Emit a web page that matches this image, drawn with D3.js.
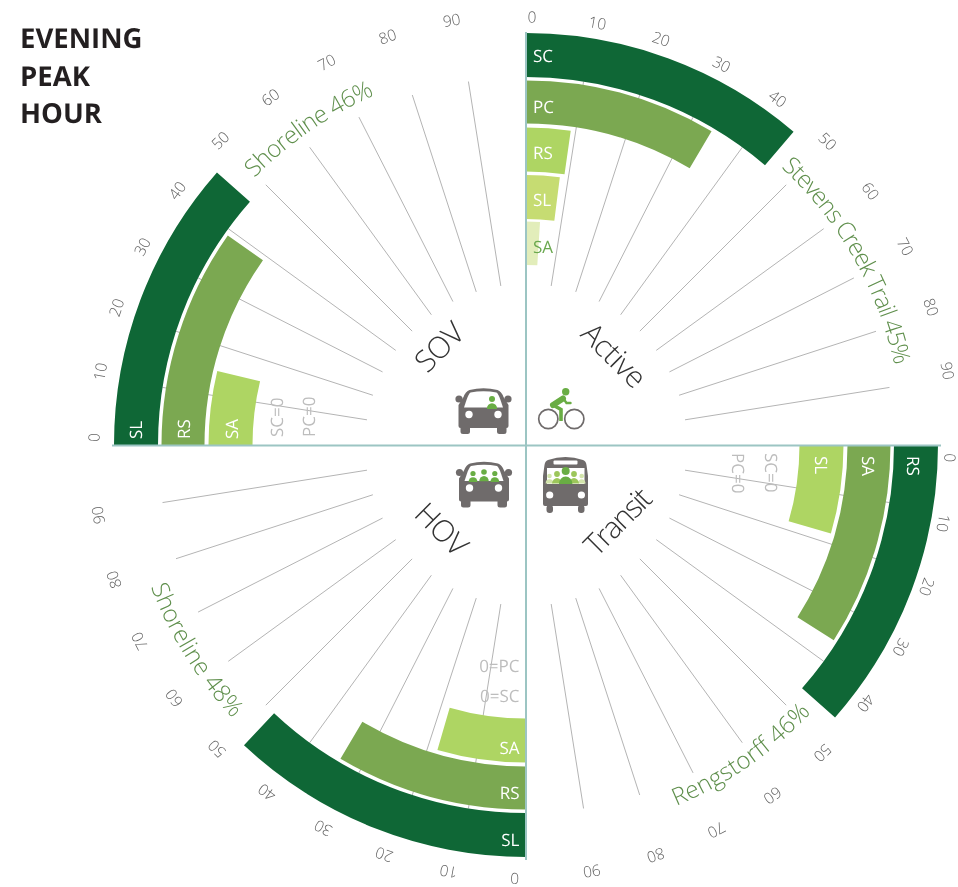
<!DOCTYPE html>
<html><head><meta charset="utf-8">
<script src="https://cdn.jsdelivr.net/npm/d3@7"></script>
<style>
html,body{margin:0;padding:0;background:#fff}
svg{display:block}
text{font-family:"Open Sans",sans-serif;text-rendering:geometricPrecision}
</style></head><body>
<svg id="c" width="958" height="887"></svg>
<script>
// ---- data ----
const titleLines = ["EVENING","PEAK","HOUR"];
const tickValues = [0,10,20,30,40,50,60,70,80,90];
const gridValues = [10,20,30,40,50,60,70,80,90];

const activeCats = ["SC","PC","RS","SL","SA"];
const activeVals = [45,34,9,8,4];
const transitCats = ["RS","SA","SL"];
const transitVals = [46,36,18];
const hovCats = ["SL","RS","SA"];
const hovVals = [48,34,18];
const sovCats = ["SL","RS","SA"];
const sovVals = [46,39,15];

const modeNames = ["Active","Transit","HOV","SOV"];
const peakLabels = ["Stevens Creek Trail 45%","Rengstorff 46%","Shoreline 48%","Shoreline 46%"];
const sovZeros = ["SC=0","PC=0"];
const transitZeros = ["PC=0","SC=0"];
const hovZeros = ["0=PC","0=SC"];

// ---- layout ----
const W=958,H=887,cx=526,cy=445;
const svg=d3.select("#c");
const angle=d3.scaleLinear().domain([0,100]).range([0,Math.PI/2]);
const bandOuter=[412,364.5,317.5,270,223.5];
const bandInner=[368,321.5,273.5,226,180];
const gridR=d3.scaleLinear().domain([0,1]).range([161,368]);
const colorsDefault=["#0f6736","#7ba851","#aed563"];
const colorsActive=["#0f6736","#7ba851","#aed563","#c6dc72","#e2edba"];
const quads=[
 {i:0,rot:0,cats:activeCats,vals:activeVals,cols:colorsActive,lr:428,sx:0,sy:0,da:.8},
 {i:1,rot:90,cats:transitCats,vals:transitVals,cols:colorsDefault,lr:429,sx:-5,sy:3,da:1.3},
 {i:2,rot:180,cats:hovCats,vals:hovVals,cols:colorsDefault,lr:433.5,sx:0,sy:0,da:1.5},
 {i:3,rot:270,cats:sovCats,vals:sovVals,cols:colorsDefault,lr:431,sx:-1,sy:0,da:1}
];
const root=svg.append("g").attr("transform",`translate(${cx},${cy})`);
const gridCol="#b4b4b4", tickCol="#5f5f5f", zeroCol="#bdbdbd", nameCol="#5f8f4c";

// grid lines
quads.forEach(q=>{
  const a0=q.rot*Math.PI/180;
  root.append("g").selectAll("line").data(gridValues).join("line")
    .attr("x1",v=>gridR(0)*Math.sin(a0+angle(v))).attr("y1",v=>-gridR(0)*Math.cos(a0+angle(v)))
    .attr("x2",v=>gridR(1)*Math.sin(a0+angle(v))).attr("y2",v=>-gridR(1)*Math.cos(a0+angle(v)))
    .attr("stroke",gridCol).attr("stroke-width",1);
});
// tick labels (slightly compressed fan, as in the source artwork)
quads.forEach(q=>{
  const g=root.append("g").attr("transform",`translate(${q.sx},${q.sy})`).attr("opacity",.99);
  g.selectAll("text").data(tickValues).join("text")
    .attr("transform",v=>{
      const deg=q.rot+v*.88+q.da;
      const a=deg*Math.PI/180;
      return `translate(${q.lr*Math.sin(a)},${-q.lr*Math.cos(a)}) rotate(${deg})`;
    })
    .attr("text-anchor","middle").attr("dy","0.36em")
    .attr("font-size",15.5).attr("font-weight",300).attr("fill",tickCol)
    .text(v=>v);
});
// bars
const arc=d3.arc();
quads.forEach(q=>{
  const a0=q.rot*Math.PI/180;
  root.append("g").selectAll("path").data(q.vals).join("path")
    .attr("d",(v,k)=>arc({innerRadius:bandInner[k],outerRadius:bandOuter[k],startAngle:a0,endAngle:a0+angle(v)}))
    .attr("fill",(v,k)=>q.cols[k]);
});
// axes
svg.append("line").attr("x1",cx).attr("x2",cx).attr("y1",32).attr("y2",860).attr("stroke","#9cc5c3").attr("stroke-width",2);
svg.append("line").attr("x1",112).attr("x2",941).attr("y1",445.5).attr("y2",445.5).attr("stroke","#9cc5c3").attr("stroke-width",2);

// bar labels
const lab=(t,x,y,rot,anchor,fill,size)=>svg.append("text")
  .attr("transform",`translate(${x},${y}) rotate(${rot})`)
  .attr("text-anchor",anchor||"start").attr("fill",fill||"#fff")
  .attr("font-size",size||17).text(t);
const activeY=[61.7,113,159,206,252.7];
activeCats.forEach((c,k)=>lab(c,533,activeY[k],0,"start",k===4?"#6aa84f":"#fff"));
const sovX=[141.7,190,238];
sovCats.forEach((c,k)=>lab(c,sovX[k],439,-90));
const transitX=[907,862,815];
transitCats.forEach((c,k)=>lab(c,transitX[k],456,90));
const hovY=[846,799,754];
hovCats.forEach((c,k)=>lab(c,519.5,hovY[k],0,"end"));
// zero labels
[283,315].forEach((x,k)=>lab(sovZeros[k],x,437,-90,"start",zeroCol));
[732,765].forEach((x,k)=>lab(transitZeros[k],x,453,90,"start",zeroCol));
[672,702].forEach((y,k)=>lab(hovZeros[k],519.5,y,0,"end",zeroCol));

// curved names: degrees clockwise from north; letter-spacing fitted to the arc
const defs=svg.append("defs");
const curve=[
 {r:377,a:42.6,b:77.6},
 {r:391,a:133.2,b:157.4,rev:true},
 {r:401,a:227,b:249.3,rev:true},
 {r:381,a:314.5,b:336.5}
];
curve.forEach((c,i)=>{
  const rad=d=>d*Math.PI/180;
  const p=d=>[cx+c.r*Math.sin(rad(d)),cy-c.r*Math.cos(rad(d))];
  const pad=8;
  const A=p(c.a-pad),B=p(c.b+pad);
  const d=c.rev?`M${B}A${c.r},${c.r} 0 0 0 ${A}`:`M${A}A${c.r},${c.r} 0 0 1 ${B}`;
  defs.append("path").attr("id","arc"+i).attr("d",d);
  const t=svg.append("text").attr("font-size",24).attr("font-weight",300).attr("fill",nameCol)
    .attr("text-anchor","middle");
  t.append("textPath").attr("href","#arc"+i).attr("startOffset","50%").text(peakLabels[i]);
  const target=rad(c.b-c.a)*c.r;
  const len=t.node().getComputedTextLength();
  t.attr("letter-spacing",(target-len)/peakLabels[i].length);
});

// mode names
const modePos=[[614,355,45,-.4],[617,522,-45,-1.8],[441.5,529,45,-.6],[439,347,-45,-.6]];
modeNames.forEach((m,i)=>{
  svg.append("text").attr("transform",`translate(${modePos[i][0]},${modePos[i][1]}) rotate(${modePos[i][2]})`)
   .attr("text-anchor","middle").attr("dy","0.36em").attr("font-size",30).attr("letter-spacing",modePos[i][3])
   .attr("font-weight",300).attr("fill","#333").text(m);
});

// title
const titleY=[48.3,86,122.7];
titleLines.forEach((t,i)=>svg.append("text").attr("x",20).attr("y",titleY[i])
  .attr("font-size",27.5).attr("font-weight",700).attr("fill","#231f20").text(t));

// icons
const grey="#6f6b6b", g1="#69ad44", g2="#9cc65a", g3="#d3e5ac";
function person(g,x,y,r,fill){
  g.append("circle").attr("cx",x).attr("cy",y).attr("r",r).attr("fill",fill);
  g.append("path").attr("d",`M${x-r*1.7},${y+r*3.3}A${r*1.7},${r*1.9} 0 0 1 ${x+r*1.7},${y+r*3.3}Z`).attr("fill",fill);
}
function car(ox,oy,people){
  const g=svg.append("g").attr("transform",`translate(${ox},${oy})`);
  g.append("circle").attr("cx",-24.5).attr("cy",-12).attr("r",3.6).attr("fill",grey);
  g.append("circle").attr("cx",24.5).attr("cy",-12).attr("r",3.6).attr("fill",grey);
  g.append("path").attr("fill",grey).attr("d",
   "M-14,-21Q0,-24.5 14,-21Q18,-19.5 20,-14L25,-6V15Q25,17 23,17V20.5Q23,23 20.5,23H16Q13.5,23 13.5,20.5V17H-13.5V20.5Q-13.5,23 -16,23H-20.5Q-23,23 -23,20.5V17Q-25,17 -25,15V-6L-20,-14Q-18,-19.5 -14,-21Z");
  g.append("path").attr("fill","#fff").attr("d","M-13,-18.5Q0,-21 13,-18.5Q15,-17 17,-11L19.5,-3.5H-19.5L-17,-11Q-15,-17 -13,-18.5Z");
  g.append("circle").attr("cx",-14.5).attr("cy",3.5).attr("r",3.7).attr("fill","#fff");
  g.append("circle").attr("cx",14.5).attr("cy",3.5).attr("r",3.7).attr("fill","#fff");
  people(g);
}
car(483.5,411,g=>person(g,8.5,-12,3,g1));
car(484,484.5,g=>{person(g,-11,-11,2.6,g1);person(g,0,-12.5,2.8,g1);person(g,10.8,-11,2.6,g1);});
// bike
(function(){
  const g=svg.append("g");
  [[548.3,419],[574.3,419]].forEach(c=>g.append("circle").attr("cx",c[0]).attr("cy",c[1]).attr("r",9.6).attr("fill","none").attr("stroke",grey).attr("stroke-width",1.7));
  g.append("circle").attr("cx",565.7).attr("cy",391.7).attr("r",3.7).attr("fill",g1);
  g.append("path").attr("d","M563,398.5L553,405").attr("stroke",g1).attr("stroke-width",6).attr("stroke-linecap","round");
  g.append("path").attr("d","M563,398L566.5,403H570.5").attr("stroke",g1).attr("stroke-width",2.4).attr("fill","none").attr("stroke-linecap","round");
  g.append("path").attr("d","M553,405L561,409.5V421").attr("stroke",g1).attr("stroke-width",3.6).attr("fill","none");
})();
// bus
(function(){
  const g=svg.append("g");
  g.append("path").attr("fill",grey).attr("d","M548,460Q565.5,454 583,460Q586,461 586.5,465L588,476V504Q588,506 586,506H545Q543,506 543,504V476L544.5,465Q545,461 548,460Z");
  g.append("rect").attr("x",546.5).attr("y",505).attr("width",6.5).attr("height",8).attr("rx",3).attr("fill",grey);
  g.append("rect").attr("x",578).attr("y",505).attr("width",6.5).attr("height",8).attr("rx",3).attr("fill",grey);
  g.append("rect").attr("x",547).attr("y",468).attr("width",37.5).attr("height",16).attr("fill","#fff");
  g.append("rect").attr("x",553.5).attr("y",460.5).attr("width",24).attr("height",4).attr("rx",1).attr("fill","#fff");
  const c=g.append("g");
  person(c,549.5,476,2.3,g3);person(c,581.7,476,2.3,g3);
  person(c,557,474,2.9,g2);person(c,574,474,2.9,g2);
  person(c,565.7,471,4,g1);
  g.append("rect").attr("x",543).attr("y",484).attr("width",45).attr("height",3).attr("fill",grey);
  g.append("circle").attr("cx",549.7).attr("cy",495).attr("r",3.6).attr("fill","#fff");
  g.append("circle").attr("cx",581.4).attr("cy",495).attr("r",3.6).attr("fill","#fff");
})();
</script>
</body></html>
